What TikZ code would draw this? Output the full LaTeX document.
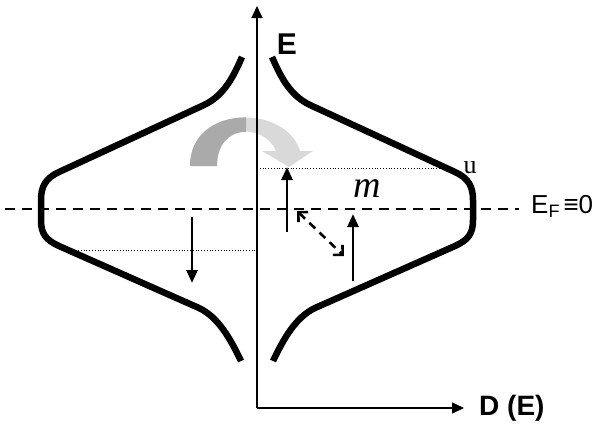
\documentclass[tikz,border=0pt]{standalone}
\usepackage{fontspec}
\setmainfont{Liberation Sans}
\newfontfamily\serifrm{Liberation Serif}
\usetikzlibrary{arrows.meta}
\definecolor{darkgr}{RGB}{170,170,170}
\definecolor{lightgr}{RGB}{217,217,217}
\tikzset{
  band/.style={line width=6.5pt, line cap=butt, line join=round},
  axisline/.style={line width=1.5pt, -{Triangle[length=12pt,width=11pt]}},
  transition/.style={line width=2.7pt, -{Triangle[length=13pt,width=11pt]}},
  level/.style={line width=0.8pt, dotted},
  fermi/.style={line width=1.9pt, dash pattern=on 10pt off 7pt},
  scatter/.style={line width=2.6pt, dash pattern=on 8pt off 6pt,
    {Straight Barb[length=7pt,width=14pt]}-{Straight Barb[length=7pt,width=14pt]}},
  lbl/.style={inner sep=0pt}
}
\begin{document}
\begin{tikzpicture}[x=1pt,y=-1pt]
\useasboundingbox (0,0) rectangle (597,424);

% curved grey arrow
\def\bigarrow{(190,166) .. controls (190,104) and (286,104) .. (300,151)
  -- (313,151) -- (289,167) -- (262,151) -- (276,151)
  .. controls (265,124) and (217,122) .. (217,166) -- cycle}
\fill[lightgr] \bigarrow;
\begin{scope}
  \clip (180,100) rectangle (246,170);
  \fill[darkgr] \bigarrow;
\end{scope}

% named coordinates
\coordinate (origin) at (257,408);
\coordinate (ytop) at (257,6);
\coordinate (xend) at (464,408);
\coordinate (fl) at (5,209);
\coordinate (fr) at (519,209);
\coordinate (up1a) at (287,232);
\coordinate (up1b) at (287,167);
\coordinate (dn1a) at (192,217);
\coordinate (dn1b) at (192,283);
\coordinate (up2a) at (353,281);
\coordinate (up2b) at (353,214);
\coordinate (sca) at (297,211);
\coordinate (scb) at (344,256);
\coordinate (dotA1) at (257,168);
\coordinate (dotA2) at (448,168);
\coordinate (dotB1) at (78,250);
\coordinate (dotB2) at (257,250);

% Fermi level
\draw[fermi] (fl) -- (fr);

% density of states curves
\draw[band] (272,57) .. controls (280,75) and (289,95) .. (310,105)
  -- (455,172) .. controls (468,178) and (473,186) .. (473,200)
  -- (473,220) .. controls (473,234) and (468,240) .. (455,246)
  -- (315,308) .. controls (296,317) and (284,338) .. (273,361);
\draw[band] (242,57) .. controls (234,75) and (225,95) .. (204,105)
  -- (59,172) .. controls (46,178) and (41,186) .. (41,200)
  -- (41,220) .. controls (41,234) and (46,240) .. (59,246)
  -- (199,308) .. controls (218,317) and (230,338) .. (241,361);

% dotted levels
\draw[level] (dotA1) -- (dotA2);
\draw[level] (dotB1) -- (dotB2);

% axes
\draw[axisline] (origin) -- (ytop);
\draw[axisline] (origin) -- (xend);

% transitions
\draw[transition] (up1a) -- (up1b);
\draw[transition] (dn1a) -- (dn1b);
\draw[transition] (up2a) -- (up2b);
\draw[scatter] (sca) -- (scb);

% labels
\node[lbl] (lE) at (287,44) {\fontsize{30}{30}\selectfont\bfseries E};
\node[lbl, anchor=west] (lD) at (479,408) {\fontsize{28}{28}\selectfont\bfseries D (E)};
\node[lbl, anchor=base west] (lEF) at (531,213) {\fontsize{26}{26}\selectfont E\raisebox{-0.3ex}{\fontsize{18}{18}\selectfont F}\hspace{4pt}≡0};
\node[lbl, anchor=base] (lu) at (470,173) {\serifrm\fontsize{26}{26}\selectfont u};
\node[lbl, anchor=base] (lm) at (367,197) {\serifrm\itshape\fontsize{38}{38}\selectfont m};
\end{tikzpicture}
\end{document}
